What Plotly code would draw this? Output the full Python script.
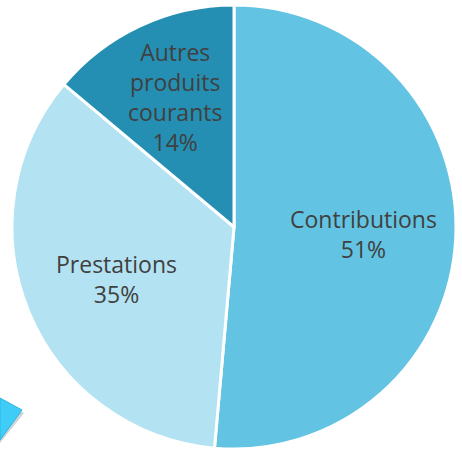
import plotly.graph_objects as go

labels = ["Contributions", "Prestations", "Autres<br>produits<br>courants"]
values = [51.4, 34.7, 13.9]
colors = ["#63C3E2", "#B3E2F2", "#248FB3"]
label_pos = [(363, 234), (117, 279), (175, 97)]  # label centres in pixels

W, H = 462, 454
fig = go.Figure(go.Pie(
    labels=labels,
    values=values,
    sort=False,
    direction="clockwise",
    rotation=0,
    marker=dict(colors=colors, line=dict(color="white", width=3)),
    textinfo="none",
    hoverinfo="skip",
    showlegend=False,
    domain=dict(x=[12 / W, 456 / W], y=[(H - 449) / H, (H - 5) / H]),
))

total = sum(values)
for lab, v, (x, y) in zip(labels, values, label_pos):
    fig.add_annotation(x=x / W, y=1 - y / H, xref="paper", yref="paper",
                       text=f"{lab}<br>{round(100 * v / total)}%",
                       showarrow=False, xanchor="center", yanchor="middle",
                       font=dict(family="Open Sans, sans-serif", size=23, color="#404040"))

def px(x, y):
    return f"{x / W} {1 - y / H}"

fig.add_shape(type="path", xref="paper", yref="paper",
              path=f"M {px(0,401)} L {px(24,413)} L {px(0,443)} Z",
              fillcolor="#9aa7ad", line=dict(width=0), opacity=0.5)
fig.add_shape(type="path", xref="paper", yref="paper",
              path=f"M {px(0,398)} L {px(22,410)} L {px(0,440)} Z",
              fillcolor="#3FCCF6", line=dict(color="#2AB5E0", width=1))

fig.update_layout(width=W, height=H, margin=dict(l=0, r=0, t=0, b=0),
                  paper_bgcolor="white", plot_bgcolor="white")
fig.write_html("out.html", config={"displayModeBar": False})

with open("out.html", encoding="utf-8") as f:
    html = f.read()
html = html.replace("<head>", "<head><style>html,body{margin:0;padding:0;overflow:hidden}</style>", 1)
with open("out.html", "w", encoding="utf-8") as f:
    f.write(html)
